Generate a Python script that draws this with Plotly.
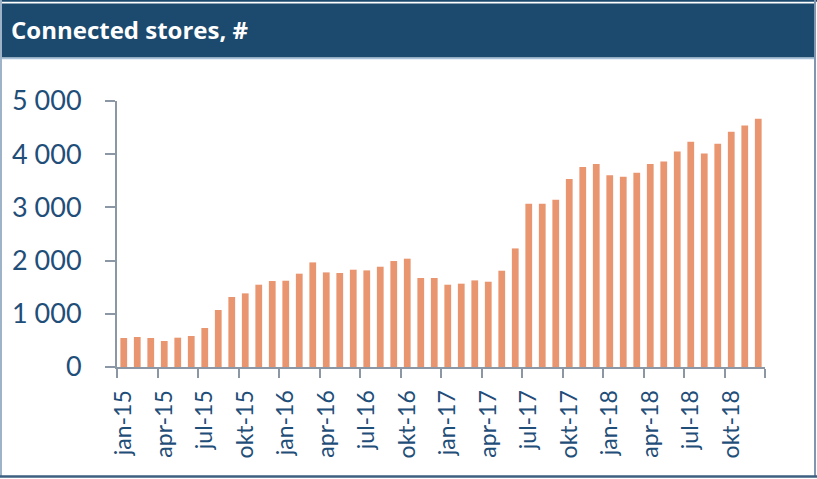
import plotly.graph_objects as go

# Monthly connected stores, Jan 2015 - Dec 2018
months = [f"{m}-{y}" for y in ("15", "16", "17", "18")
          for m in ("jan", "feb", "mar", "apr", "mai", "jun",
                    "jul", "aug", "sep", "okt", "nov", "des")]
stores = [545, 564, 545, 489, 551, 583, 733, 1071, 1316, 1384, 1547, 1616,
          1622, 1754, 1966, 1778, 1767, 1829, 1816, 1885, 1992, 2036, 1673, 1673,
          1547, 1566, 1628, 1603, 1810, 2229, 3070, 3070, 3145, 3533, 3759, 3816,
          3602, 3577, 3652, 3816, 3865, 4053, 4235, 4015, 4197, 4423, 4541, 4667]
y_ticks = [0, 1000, 2000, 3000, 4000, 5000]
title_text = "Connected stores, #"

NAVY = "#1B4A6E"
TEXT = "#1F4E79"
AXIS = "#8C97A6"
BAR = "#E9956F"

W, H = 817, 479
L, R, T, B = 117, 765, 101, 367  # plot area in pixels

xs = list(range(len(months)))
label_idx = xs[::3]

fig = go.Figure(go.Bar(x=xs, y=stores, marker=dict(color=BAR, line=dict(width=0))))


def px(x):
    return (x - L) / (R - L)


def py(y):
    return (B - y) / (B - T)


shapes = [
    # header band
    dict(type="rect", xref="paper", yref="paper", x0=px(0), x1=px(816), y0=py(57.5), y1=py(3.5),
         fillcolor=NAVY, line=dict(width=0), layer="below"),
    dict(type="line", xref="paper", yref="paper", x0=px(0), x1=px(817), y0=py(0.8), y1=py(0.8),
         line=dict(color=NAVY, width=2)),
    dict(type="line", xref="paper", yref="paper", x0=px(0), x1=px(816), y0=py(58.5), y1=py(58.5),
         line=dict(color="#A9C1D9", width=1.5)),
    # frame
    dict(type="line", xref="paper", yref="paper", x0=px(1), x1=px(1), y0=py(477), y1=py(0),
         line=dict(color="#9FB3C8", width=2)),
    dict(type="line", xref="paper", yref="paper", x0=px(815), x1=px(815), y0=py(477), y1=py(0),
         line=dict(color="#7F97B0", width=2)),
    dict(type="line", xref="paper", yref="paper", x0=px(0), x1=px(817), y0=py(476.5), y1=py(476.5),
         line=dict(color="#3D5F80", width=2.5)),
]

fig.update_layout(
    width=W, height=H,
    margin=dict(l=L, r=W - R, t=T, b=H - B, pad=0),
    paper_bgcolor="white", plot_bgcolor="white",
    bargap=0.5,
    showlegend=False,
    separators=", ",
    shapes=shapes,
    annotations=[dict(text=f"<b>{title_text}</b>", xref="paper", yref="paper",
                      x=px(9), y=py(30), xanchor="left", yanchor="middle",
                      showarrow=False, font=dict(family="Open Sans", size=24, color="white"))],
    font=dict(family="Lato", color=TEXT),
)

fig.update_xaxes(
    range=[-0.5, len(months) - 0.5],
    tickmode="array", tickvals=label_idx, ticktext=[months[i] for i in label_idx],
    tickangle=-90, ticks="", tickfont=dict(size=23, color=TEXT), ticklabelstandoff=12,
    showline=True, linecolor=AXIS, linewidth=2, showgrid=False, zeroline=False,
    minor=dict(tick0=-0.5, dtick=3, ticks="outside", ticklen=9, tickcolor=AXIS, tickwidth=2,
               showgrid=False),
)
fig.update_yaxes(
    range=[0, 5000], tickmode="array", tickvals=y_ticks, tickformat=",d",
    ticks="outside", ticklen=10, tickcolor=AXIS, tickwidth=2,
    tickfont=dict(size=27, color=TEXT), ticklabelstandoff=18,
    showline=True, linecolor=AXIS, linewidth=2, showgrid=False, zeroline=False,
)

fig.write_html("out.html")
